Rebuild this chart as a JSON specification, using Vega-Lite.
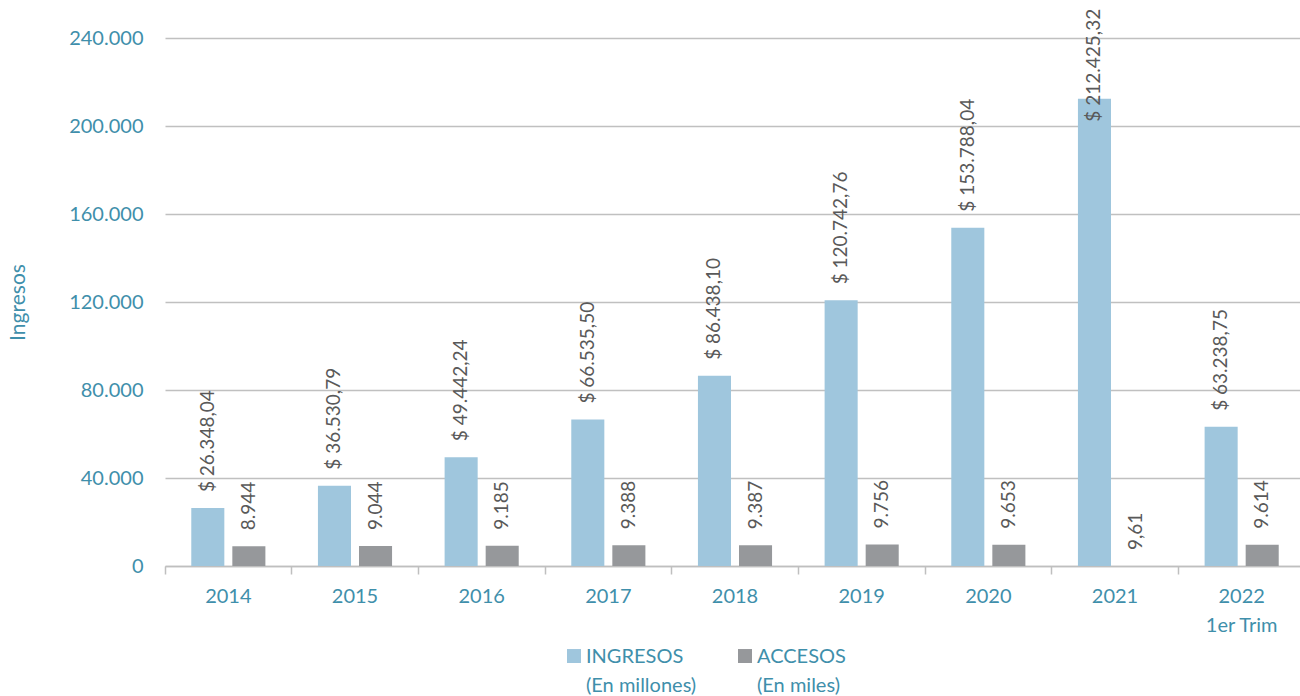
{
  "$schema": "https://vega.github.io/schema/vega-lite/v6.json",
  "autosize": {"type": "none"},
  "padding": {"left": 165, "top": 38, "right": 0, "bottom": 130},
  "width": 1140,
  "height": 528,
  "background": "white",
  "config": {
    "font": "Lato",
    "view": {"stroke": null},
    "locale": {"number": {"decimal": ",", "thousands": ".", "grouping": [3], "currency": ["$ ", ""]}}
  },
  "data": {
    "values": [
      {"year": "2014", "serie": "INGRESOS", "value": 26348.04},
      {"year": "2015", "serie": "INGRESOS", "value": 36530.79},
      {"year": "2016", "serie": "INGRESOS", "value": 49442.24},
      {"year": "2017", "serie": "INGRESOS", "value": 66535.50},
      {"year": "2018", "serie": "INGRESOS", "value": 86438.10},
      {"year": "2019", "serie": "INGRESOS", "value": 120742.76},
      {"year": "2020", "serie": "INGRESOS", "value": 153788.04},
      {"year": "2021", "serie": "INGRESOS", "value": 212425.32},
      {"year": "2022", "serie": "INGRESOS", "value": 63238.75},
      {"year": "2014", "serie": "ACCESOS", "value": 8944},
      {"year": "2015", "serie": "ACCESOS", "value": 9044},
      {"year": "2016", "serie": "ACCESOS", "value": 9185},
      {"year": "2017", "serie": "ACCESOS", "value": 9388},
      {"year": "2018", "serie": "ACCESOS", "value": 9387},
      {"year": "2019", "serie": "ACCESOS", "value": 9756},
      {"year": "2020", "serie": "ACCESOS", "value": 9653},
      {"year": "2021", "serie": "ACCESOS", "value": 9.61},
      {"year": "2022", "serie": "ACCESOS", "value": 9614}
    ]
  },
  "encoding": {
    "x": {
      "field": "year", "type": "nominal", "sort": null,
      "scale": {"paddingInner": 0, "paddingOuter": 0},
      "axis": {
        "title": null, "labelAngle": 0, "labelColor": "#3f8fab", "labelFontSize": 20,
        "labelPadding": 12, "labelBaseline": "top", "labelLineHeight": 29,
        "labelExpr": "datum.value == '2022' ? ['2022', '1er Trim'] : datum.value",
        "bandPosition": 0, "tickSize": 8, "tickColor": "#bfbfbf", "tickWidth": 1.5,
        "domainColor": "#bfbfbf", "domainWidth": 1.5, "grid": false
      }
    },
    "xOffset": {
      "field": "serie", "type": "nominal", "sort": ["INGRESOS", "ACCESOS"],
      "scale": {"paddingInner": 0.195, "paddingOuter": 0.64}
    },
    "y": {
      "field": "value", "type": "quantitative",
      "scale": {"domain": [0, 240000], "nice": false},
      "axis": {
        "title": "Ingresos", "titleColor": "#3f8fab", "titleFontSize": 21, "titleFontWeight": "normal",
        "titlePadding": 40,
        "values": [0, 40000, 80000, 120000, 160000, 200000, 240000],
        "format": ",.0f", "labelColor": "#3f8fab", "labelFontSize": 20, "labelPadding": 22,
        "domain": false, "ticks": false, "gridColor": "#c0c0c0", "gridWidth": 1.5
      }
    }
  },
  "layer": [
    {
      "mark": {"type": "bar"},
      "encoding": {
        "color": {
          "field": "serie", "type": "nominal", "sort": ["INGRESOS", "ACCESOS"],
          "scale": {"domain": ["INGRESOS", "ACCESOS"], "range": ["#9fc6dd", "#96989b"]},
          "legend": {
            "title": null, "orient": "none", "legendX": 399, "legendY": 599,
            "direction": "horizontal", "columns": 2, "columnPadding": 38,
            "symbolType": "M-1,0.29H1V2.29H-1Z", "symbolSize": 196, "symbolStrokeWidth": 0,
            "labelFontSize": 20, "labelColor": "#3f8fab", "labelOffset": 2,
            "labelBaseline": "top", "labelLimit": 300,
            "labelExpr": "datum.label == 'INGRESOS' ? ['INGRESOS', '(En millones)'] : ['ACCESOS', '(En miles)']",
            "encode": {"labels": {"update": {"lineHeight": {"value": 29}}}}
          }
        }
      }
    },
    {
      "transform": [{"filter": "!(datum.year == '2021' && datum.serie == 'INGRESOS')"}],
      "mark": {"type": "text", "angle": 270, "align": "left", "baseline": "middle", "dx": 16, "fontSize": 19, "color": "#595959"},
      "encoding": {
        "text": {
          "condition": {"test": "datum.serie == 'INGRESOS'", "field": "value", "type": "quantitative", "format": "$,.2f"},
          "field": "value", "type": "quantitative", "format": ",~f"
        }
      }
    },
    {
      "transform": [{"filter": "datum.year == '2021' && datum.serie == 'INGRESOS'"}],
      "mark": {"type": "text", "angle": 270, "align": "left", "baseline": "middle", "dx": -23, "fontSize": 19, "color": "#595959"},
      "encoding": {
        "text": {"field": "value", "type": "quantitative", "format": "$,.2f"}
      }
    }
  ]
}
